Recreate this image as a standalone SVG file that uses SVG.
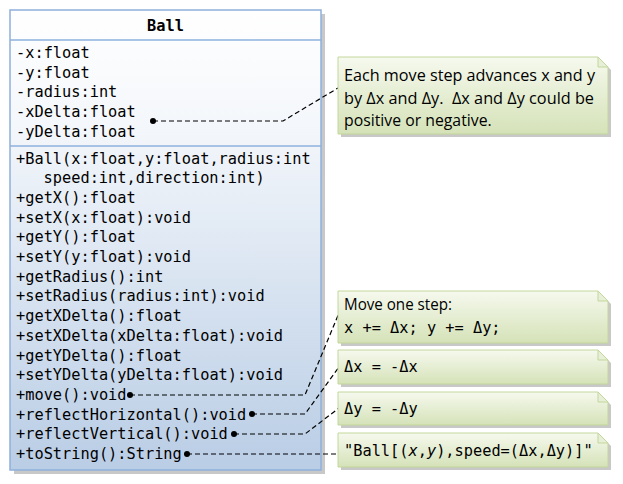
<svg xmlns="http://www.w3.org/2000/svg" width="623" height="484" viewBox="0 0 623 484">
<defs>
<linearGradient id="clsG" x1="0" y1="0" x2="0" y2="1">
<stop offset="0" stop-color="#ffffff"/>
<stop offset="0.25" stop-color="#f4f7fb"/>
<stop offset="1" stop-color="#b9cde5"/>
</linearGradient>
<linearGradient id="noteG" x1="0" y1="0" x2="0" y2="1">
<stop offset="0" stop-color="#f6f9ee"/>
<stop offset="1" stop-color="#d5e2b8"/>
</linearGradient>
<marker id="dot" markerWidth="8" markerHeight="8" refX="4" refY="4" markerUnits="userSpaceOnUse">
<circle cx="4" cy="4" r="3" fill="#000"/>
</marker>
</defs>
<style>
.mono{font-family:"DejaVu Sans Mono","Liberation Mono",monospace;font-size:15.3px;fill:#000}
.prop{font-family:"Open Sans","Noto Sans","Liberation Sans",sans-serif;font-size:15.8px;fill:#000}
.cls{fill:url(#clsG);stroke:#8eb0dc;stroke-width:1.5}
.shadow{fill:#9a9a9a;opacity:0.55}
.note{fill:url(#noteG);stroke:#c3d69b;stroke-width:1}
.fold{fill:#e8efd8;stroke:#c3d69b;stroke-width:1}
.conn{fill:none;stroke:#000;stroke-width:1.2;stroke-dasharray:5,3}
</style>
<rect x="0" y="0" width="623" height="484" fill="#fff"/>
<g id="class-Ball">
<rect class="shadow" x="14" y="14" width="311" height="460"/>
<rect class="cls" x="10" y="10" width="311" height="460"/>
<line x1="10" y1="40" x2="321" y2="40" stroke="#8eb0dc" stroke-width="1.5"/>
<line x1="10" y1="146" x2="321" y2="146" stroke="#8eb0dc" stroke-width="1.5"/>
<text class="mono" x="165.5" y="31" text-anchor="middle" font-weight="bold">Ball</text>
<text class="mono" x="16" y="58">-x:float</text>
<text class="mono" x="16" y="77.7">-y:float</text>
<text class="mono" x="16" y="97.4">-radius:int</text>
<text class="mono" x="16" y="117.1">-xDelta:float</text>
<text class="mono" x="16" y="136.8">-yDelta:float</text>
<text class="mono" x="16" y="163.5">+Ball(x:float,y:float,radius:int</text>
<text class="mono" x="43.6" y="183.2">speed:int,direction:int)</text>
<text class="mono" x="16" y="202.9">+getX():float</text>
<text class="mono" x="16" y="222.6">+setX(x:float):void</text>
<text class="mono" x="16" y="242.3">+getY():float</text>
<text class="mono" x="16" y="262">+setY(y:float):void</text>
<text class="mono" x="16" y="281.7">+getRadius():int</text>
<text class="mono" x="16" y="301.4">+setRadius(radius:int):void</text>
<text class="mono" x="16" y="321.1">+getXDelta():float</text>
<text class="mono" x="16" y="340.8">+setXDelta(xDelta:float):void</text>
<text class="mono" x="16" y="360.5">+getYDelta():float</text>
<text class="mono" x="16" y="380.2">+setYDelta(yDelta:float):void</text>
<text class="mono" x="16" y="399.9">+move():void</text>
<text class="mono" x="16" y="419.6">+reflectHorizontal():void</text>
<text class="mono" x="16" y="439.3">+reflectVertical():void</text>
<text class="mono" x="16" y="459">+toString():String</text>
</g>
<g id="connectors">
<polyline class="conn" points="153,121 283,121 338,88" marker-start="url(#dot)"/>
<polyline class="conn" points="130,395 305,395 339,313" marker-start="url(#dot)"/>
<polyline class="conn" points="252,414 305,414 339,367" marker-start="url(#dot)"/>
<polyline class="conn" points="234,434 305,434 339,408" marker-start="url(#dot)"/>
<polyline class="conn" points="187,454 338,454" marker-start="url(#dot)"/>
</g>
<g id="note-delta">
<path class="shadow" d="M341,60 H601 L611,70 V137 H341 Z"/>
<path class="note" d="M338,57 H598 L608,67 V134 H338 Z"/>
<path class="fold" d="M598,57 L608,67 H598 Z"/>
<text class="prop" x="344" y="81" textLength="251" lengthAdjust="spacingAndGlyphs">Each move step advances x and y</text>
<text class="prop" x="344" y="103.5" xml:space="preserve" textLength="250" lengthAdjust="spacingAndGlyphs">by Δx and Δy.  Δx and Δy could be</text>
<text class="prop" x="344" y="126">positive or negative.</text>
</g>
<g id="note-move">
<path class="shadow" d="M341,294 H601 L611,304 V346 H341 Z"/>
<path class="note" d="M338,291 H598 L608,301 V343 H338 Z"/>
<path class="fold" d="M598,291 L608,301 H598 Z"/>
<text class="prop" x="344" y="310" textLength="108" lengthAdjust="spacingAndGlyphs">Move one step:</text>
<text class="mono" x="344" y="333" xml:space="preserve">x += Δx; y += Δy;</text>
</g>
<g id="note-reflectH">
<path class="shadow" d="M341,353 H601 L611,363 V387 H341 Z"/>
<path class="note" d="M338,350 H598 L608,360 V384 H338 Z"/>
<path class="fold" d="M598,350 L608,360 H598 Z"/>
<text class="mono" x="344" y="372">Δx = -Δx</text>
</g>
<g id="note-reflectV">
<path class="shadow" d="M341,395 H601 L611,405 V428 H341 Z"/>
<path class="note" d="M338,392 H598 L608,402 V425 H338 Z"/>
<path class="fold" d="M598,392 L608,402 H598 Z"/>
<text class="mono" x="344" y="413.5">Δy = -Δy</text>
</g>
<g id="note-toString">
<path class="shadow" d="M341,436 H601 L611,446 V470 H341 Z"/>
<path class="note" d="M338,433 H598 L608,443 V467 H338 Z"/>
<path class="fold" d="M598,433 L608,443 H598 Z"/>
<text class="mono" x="344" y="456">"Ball[(<tspan font-style="italic">x</tspan>,<tspan font-style="italic">y</tspan>),speed=(Δx,Δy)]"</text>
</g>
</svg>
